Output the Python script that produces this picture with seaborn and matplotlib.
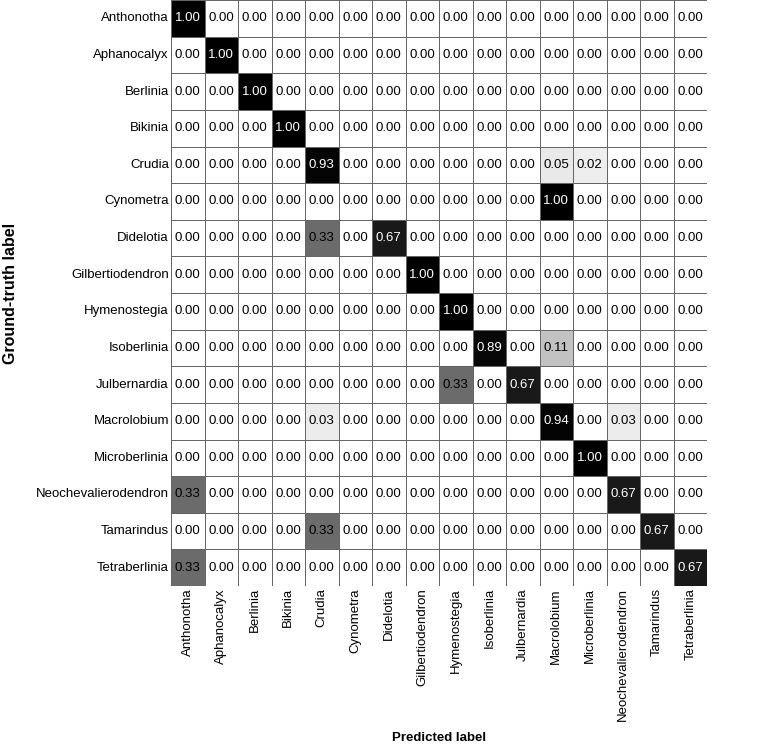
import numpy as np
import pandas as pd
import matplotlib
matplotlib.use("Agg")
import matplotlib.pyplot as plt
from matplotlib.colors import LinearSegmentedColormap
import seaborn as sns

classes = ["Anthonotha", "Aphanocalyx", "Berlinia", "Bikinia", "Crudia", "Cynometra",
           "Didelotia", "Gilbertiodendron", "Hymenostegia", "Isoberlinia", "Julbernardia",
           "Macrolobium", "Microberlinia", "Neochevalierodendron", "Tamarindus", "Tetraberlinia"]

# diagonal values, then the non-zero off-diagonal cells (row, col, value)
diag = [1.00, 1.00, 1.00, 1.00, 0.93, 0.00, 0.67, 1.00, 1.00, 0.89, 0.67, 0.94, 1.00, 0.67, 0.67, 0.67]
off_diag = [
    ("Crudia", "Macrolobium", 0.05),
    ("Crudia", "Microberlinia", 0.02),
    ("Cynometra", "Macrolobium", 1.00),
    ("Didelotia", "Crudia", 0.33),
    ("Isoberlinia", "Macrolobium", 0.11),
    ("Julbernardia", "Hymenostegia", 0.33),
    ("Macrolobium", "Crudia", 0.03),
    ("Macrolobium", "Neochevalierodendron", 0.03),
    ("Neochevalierodendron", "Anthonotha", 0.33),
    ("Tamarindus", "Crudia", 0.33),
    ("Tetraberlinia", "Anthonotha", 0.33),
]

cm = pd.DataFrame(np.diag(diag), index=classes, columns=classes)
for r, c, v in off_diag:
    cm.loc[r, c] = v

# grey ramp matching the reference shading
grey = LinearSegmentedColormap.from_list("cm_grey", [
    (0.0, (1.0, 1.0, 1.0)), (0.02, (0.93, 0.93, 0.93)), (0.05, (0.91, 0.91, 0.91)),
    (0.11, (0.76, 0.76, 0.76)), (0.33, (0.42, 0.42, 0.42)), (0.67, (0.10, 0.10, 0.10)),
    (0.89, (0.03, 0.03, 0.03)), (1.0, (0.0, 0.0, 0.0))])

plt.rcParams["font.family"] = ["Liberation Sans", "DejaVu Sans"]
fig = plt.figure(figsize=(7.57, 7.44), dpi=100)
ax = fig.add_axes([171 / 757, 1 - 586 / 744, 536 / 757, 586 / 744])

sns.heatmap(cm, ax=ax, cmap=grey, vmin=0, vmax=1,
            annot=True, fmt=".2f", annot_kws={"size": 9.5}, cbar=False,
            linewidths=0.6, linecolor="#666666")

for t in ax.texts:
    t.set_color("white" if float(t.get_text()) > 0.5 else "black")

ax.tick_params(length=0, pad=1.5, labelsize=9.5)
plt.setp(ax.get_xticklabels(), rotation=90)
plt.setp(ax.get_yticklabels(), rotation=0)
ax.set_xlabel("Predicted label", fontsize=9.5, fontweight="bold", labelpad=8)
ax.set_ylabel("Ground-truth label", fontsize=11.5, fontweight="bold", labelpad=13)

fig.savefig("out.png", dpi=100)
